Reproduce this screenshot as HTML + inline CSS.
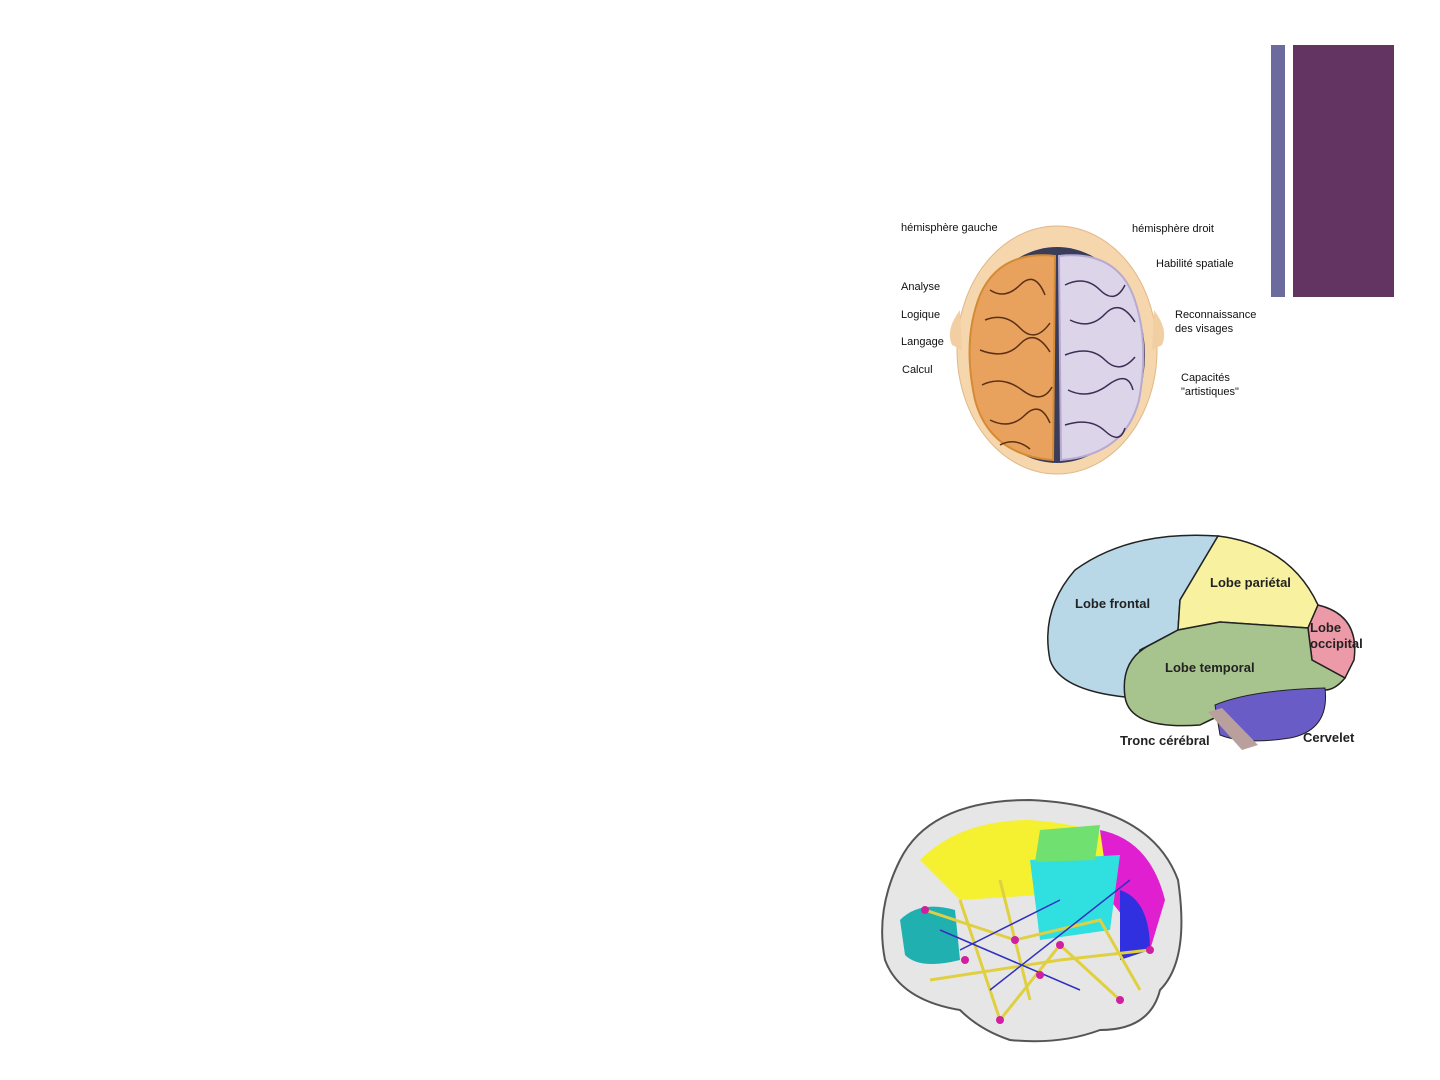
<!DOCTYPE html>
<html><head><meta charset="utf-8"><style>
html,body{margin:0;padding:0;background:#fff;width:1440px;height:1080px;overflow:hidden}
svg{display:block}
text{font-family:"Liberation Sans",sans-serif}
</style></head><body>
<svg width="1440" height="1080" viewBox="0 0 1440 1080" xmlns="http://www.w3.org/2000/svg">
<rect x="1271" y="45" width="14" height="252" fill="#6b6b9e"/>
<rect x="1293" y="45" width="101" height="252" fill="#633462"/>

<!-- top brain -->
<path d="M1040 236 Q1057 222 1074 236 Z" fill="#f2cfa3"/>
<ellipse cx="1057" cy="350" rx="100" ry="124" fill="#f5d6ad" stroke="#e1b787"/>
<path d="M960 310 Q945 330 952 345 L962 350 Z" fill="#f2cfa3"/>
<path d="M1154 310 Q1169 330 1162 345 L1152 350 Z" fill="#f2cfa3"/>
<ellipse cx="1057" cy="355" rx="88" ry="108" fill="#3a3d5a"/>
<path d="M1055 256 Q1000 250 980 295 Q962 340 975 400 Q990 455 1053 460 Z" fill="#e9a15e" stroke="#d58b35" stroke-width="2"/>
<path d="M1059 256 Q1115 250 1133 295 Q1150 340 1139 400 Q1125 455 1061 460 Z" fill="#dcd5ea" stroke="#b8a9d0" stroke-width="2"/>
<g fill="none" stroke="#5a3014" stroke-width="1.5">
<path d="M990 290 q15 10 30 -5 t25 10 M985 320 q20 -8 35 8 t30 -5 M980 350 q25 10 40 -6 t30 8 M982 385 q20 -10 40 5 t30 -3 M990 420 q20 10 35 -5 t25 8 M1000 445 q15 -8 30 4"/>
</g>
<g fill="none" stroke="#3d2d55" stroke-width="1.5">
<path d="M1065 285 q20 -10 35 5 t25 -5 M1070 320 q20 10 35 -6 t30 8 M1065 355 q25 -10 40 5 t30 -3 M1068 390 q20 10 40 -5 t25 5 M1065 425 q25 -8 40 6 t20 -3"/>
</g>
<g font-size="11" fill="#111">
<text x="901" y="231">hémisphère gauche</text>
<text x="1132" y="232">hémisphère droit</text>
<text x="1156" y="267">Habilité spatiale</text>
<text x="901" y="290">Analyse</text>
<text x="901" y="318">Logique</text>
<text x="901" y="345">Langage</text>
<text x="902" y="373">Calcul</text>
<text x="1175" y="318">Reconnaissance</text>
<text x="1175" y="332">des visages</text>
<text x="1181" y="381">Capacités</text>
<text x="1181" y="395">"artistiques"</text>
</g>

<!-- side brain -->
<path d="M1218 536 Q1130 530 1075 570 Q1040 610 1050 660 Q1060 690 1125 697 L1140 650 L1178 630 L1180 600 Z" fill="#b8d8e8" stroke="#222" stroke-width="1.5"/>
<path d="M1218 536 Q1290 545 1318 605 L1308 628 L1220 622 L1178 630 L1180 600 Z" fill="#f8f2a0" stroke="#222" stroke-width="1.5"/>
<path d="M1318 605 Q1360 615 1354 660 L1345 678 L1312 660 L1308 628 Z" fill="#ec9aa8" stroke="#222" stroke-width="1.5"/>
<path d="M1178 630 L1220 622 L1308 628 L1312 660 L1345 678 Q1335 690 1325 690 Q1280 690 1255 700 Q1220 715 1200 725 Q1130 730 1125 697 Q1120 660 1150 645 Z" fill="#a8c48e" stroke="#222" stroke-width="1.5"/>
<path d="M1215 705 Q1250 690 1325 688 Q1330 730 1290 738 Q1245 745 1220 735 Z" fill="#6a5cc6" stroke="#222"/>
<path d="M1208 712 L1222 708 L1258 745 L1242 750 Z" fill="#b9a09c"/>
<g font-size="13" font-weight="bold" fill="#222">
<text x="1075" y="608">Lobe frontal</text>
<text x="1210" y="587">Lobe pariétal</text>
<text x="1165" y="672">Lobe temporal</text>
<text x="1310" y="632">Lobe</text>
<text x="1310" y="648">occipital</text>
<text x="1120" y="745">Tronc cérébral</text>
<text x="1303" y="742">Cervelet</text>
</g>

<!-- network brain -->
<path d="M900 860 Q930 800 1030 800 Q1150 805 1178 880 Q1190 960 1160 990 Q1150 1030 1100 1030 Q1060 1045 1010 1040 Q980 1030 960 1010 Q900 1000 885 960 Q875 910 900 860 Z" fill="#e6e6e6" stroke="#555" stroke-width="2"/>
<path d="M920 860 Q960 820 1030 820 Q1100 825 1130 850 L1120 890 L960 900 Z" fill="#f5f030"/>
<path d="M1100 830 Q1150 840 1165 900 L1150 950 L1110 900 Z" fill="#e020d0"/>
<path d="M1030 860 L1120 855 L1110 930 L1040 940 Z" fill="#30e0e0"/>
<path d="M1120 890 Q1150 900 1150 950 L1120 960 Z" fill="#3030e0"/>
<path d="M900 920 Q920 900 955 910 L960 960 Q920 970 905 955 Z" fill="#20b0b0"/>
<path d="M1040 830 L1100 825 L1095 860 L1035 862 Z" fill="#70e070"/>
<g stroke="#e0d040" stroke-width="3" fill="none">
<path d="M925 910 L1015 940 L1100 920 L1140 990 M960 900 L1000 1020 L1060 945 L1120 1000 M930 980 L1060 960 L1150 950 M1000 880 L1030 1000"/>
</g>
<g stroke="#3030c0" stroke-width="1.5" fill="none">
<path d="M940 930 L1080 990 M990 990 L1130 880 M960 950 L1060 900"/>
</g>
<g fill="#d020a0">
<circle cx="925" cy="910" r="4"/><circle cx="1015" cy="940" r="4"/><circle cx="1060" cy="945" r="4"/><circle cx="1000" cy="1020" r="4"/><circle cx="965" cy="960" r="4"/><circle cx="1120" cy="1000" r="4"/><circle cx="1150" cy="950" r="4"/><circle cx="1040" cy="975" r="4"/>
</g>
</svg>
</body></html>
